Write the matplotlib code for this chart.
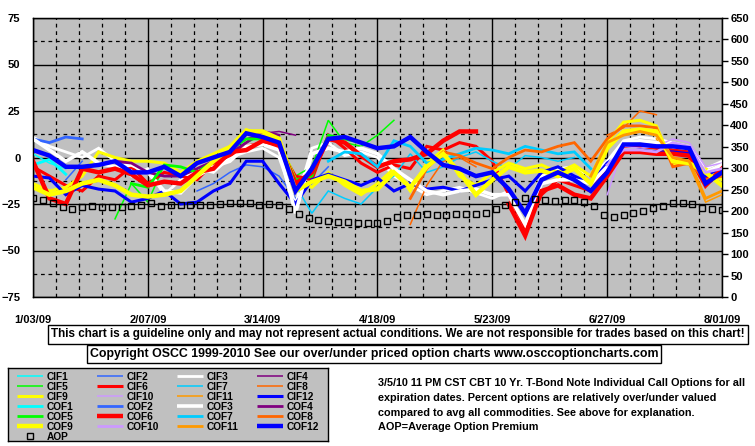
import numpy as np
import pandas as pd
import matplotlib
matplotlib.use("Agg")
import matplotlib.pyplot as plt
import matplotlib.dates as mdates
from matplotlib import font_manager

# ---- data ----
start = pd.Timestamp("2009-01-03")
end = pd.Timestamp("2009-08-01")
days = np.arange(0, 211, 5)          # 5-day sampling of the option series
aop_days = np.arange(0, 211, 3)      # 3-day sampling of the average premium
N = None

cif1 = [2, -3, -6] + [N] * 40
cif2 = [N] * 2 + [-12, -2] + [N] * 6 + [-18, -14, -8, -4, -5, -10, -22, -14, -5] + [N] * 24
cif3 = [11, 6, 3, 0, 5, -2, -10, -6, -20, -12, -6, -8, 0, 3, 5, 0, -25, 5, 8, 1, 3, 0,
        -10, -15, -20, -18, -16, -19, -22, -18, -30, -10, -6, -5, -10, -2, 9, 11, 10, 8, 6, -6, -2]
cif4 = [N] * 13 + [10, 13, 14, 12] + [N] * 26
cif5 = [N] * 5 + [-33, -14, -24, -4, -8, -6, -4, 2, 8, 12, 8, -10, -5, 20, 8, 6, 12, 20] + [N] * 20
cif6 = [-5, -10, -15, -18, -10, -12, -5, -14, -8, -10, -12, -3, 1, 6, 8, 5, -10, -12, 12, 5, -3, -8,
        -4, -6, 6, 4, 8, 6, -2, -20, -38, -20, -12, -15, -18, -6, 6, 6, 5, 4, 3, -12, -4]
cif7 = [N] * 16 + [-15, -30, -18, -22, -25, -16, -10, 2, -8, -5, 0, 3, -2, -6, 1, 0, -2, 0] + [N] * 9
cif8 = [N] * 23 + [-36, -15, -2, 0, -5] + [N] * 7 + [12, 16, 25, 23] + [N] * 4
cif9 = [-14, -18, -16, -10, 3, 0, -2, -2, -3, -8, -2, 2, 6, 15, 12, 9, -12, -16, -8, -15, -20, -14,
        -6, -18, -3, 4, -10, -15, -8, -3, -6, -4, -8, -4, -10, 8, 19, 20, 17, -4, -2, -6, -12]
cif10 = [N] * 35 + [-20, 6, 5, 6, 10, 8, -5, -3]
cif11 = [N] * 38 + [10, -3, -4, -24, -20]
cif12 = [-10, -11, -20, -15, -17, -18, -24, -22, -18, -25, -24, -18, -14, -2, -2, -14, -25, -12, -9, -12,
         -15, -11, -18, -14, -17, -16, -18, -15, -12, -10, -18, -8, -5, -10, -14, -3, 3, 4, 3, 3, 2, -10, -5]

cof1 = [-4, -1, -9] + [N] * 40
cof2 = [10, 8, 11, 10] + [N] * 39
cof3 = [10, 4, -2, 3, -3, -5, -4, -8, -18, -19, -10, -5, -2, 6, 7, 4, -30, 2, 5, 3, 5, 2,
        -6, -12, -18, -20, -18, -17, -20, -20, -36, -14, -12, -12, -14, -5, 8, 9, 8, 6, 5, -8, -4]
cof4 = [N] * 5 + [-2, -3, -8, -10, -10, -6, -2, 2, 8, 14, 12] + [N] * 27
cof5 = [N] * 6 + [-14, -16, -4, -5, -8, -2, 4, 10, 10, 7, -12, -10, 12, 10, 8] + [N] * 22
cof6 = [-2, -22, -25, -6, -8, -6, -9, -15, -13, -14, -8, -6, 3, 4, 9, 7, -14, -8, 10, 8, 1, -5,
        -2, -1, 2, 9, 14, 14, N, -25, -42, -18, -15, -20, -22, -10, 3, 3, 2, 2, 1, -15, -6]
cof7 = [N] * 18 + [-2, 3, 2, -5, 9, 6, -3, -1, 2, 5, 4, 2, 6, 4, 2, 3, -6] + [N] * 8
cof8 = [N] * 23 + [-22, -6, 3, 1, -3, -6, 0, 4, 3, 6, 8, -2, 10, 17, 17, 16, -5, -3, -12, -10]
cof9 = [-16, -20, -18, -14, -12, -15, -20, -21, -20, -18, -10, -2, 5, 14, 14, 10, -18, -13, -10, -13,
        -18, -17, -8, -16, -5, 2, -8, -20, -12, -5, -8, -7, -10, -6, -14, 5, 14, 15, 14, -2, -3, -8, -15]
cof10 = [N] * 35 + [-4, 4, 4, 3, 8, 6, -8, -6]
cof11 = [N] * 34 + [-10, 8, 12, 14, 12, 0, -2, -22, -18]
cof12 = [4, 1, -5, -5, -4, -2, -8, -8, -5, -10, -3, 0, 3, 13, 11, 8, -18, -6, 10, 11, 8, 5,
         6, 11, 3, -4, -6, -10, -8, -17, -30, -12, -8, -12, -18, -8, 7, 7, 6, 6, 5, -14, -8]

aop = [231, 226, 220, 210, 205, 210, 211, 210, 210, 210, 212, 215, 219, 213, 214, 214, 214, 214,
       215, 217, 219, 220, 218, 214, 216, 214, 205, 193, 184, 180, 176, 175, 174, 173, 172, 172,
       178, 186, 190, 192, 194, 192, 191, 193, 194, 193, 196, 204, 214, 222, 230, 228, 225, 224,
       226, 226, 222, 212, 190, 186, 192, 196, 200, 207, 213, 218, 219, 217, 208, 204, 203]

names = ["CIF%d" % i for i in range(1, 13)] + ["COF%d" % i for i in range(1, 13)]
series = [cif1, cif2, cif3, cif4, cif5, cif6, cif7, cif8, cif9, cif10, cif11, cif12,
          cof1, cof2, cof3, cof4, cof5, cof6, cof7, cof8, cof9, cof10, cof11, cof12]

colors = ["#00ffff", "#3366ff", "#ffffff", "#800080", "#00ff00", "#ff0000",
          "#00ccff", "#ff6600", "#ffff00", "#cc99ff", "#ff9900", "#0000ff"] * 2
widths = [1.1, 1.1, 2.0, 1.1, 1.1, 2.2, 1.1, 1.1, 2.2, 1.1, 1.1, 2.2,
          2.0, 2.0, 2.6, 2.0, 2.0, 3.2, 2.0, 2.0, 3.2, 2.0, 2.0, 3.2]

# ---- fonts ----
have = {f.name for f in font_manager.fontManager.ttflist}
narrow = "Liberation Sans Narrow" if "Liberation Sans Narrow" in have else "Liberation Sans"
plt.rcParams["font.family"] = [narrow, "DejaVu Sans"]
plt.rcParams["font.weight"] = "bold"

W, H = 755, 446
fig = plt.figure(figsize=(W / 100, H / 100), dpi=100)


def fx(x):
    return x / W


def fy(y):
    return 1 - y / H


ax = fig.add_axes([fx(33), fy(297), (722 - 33) / W, (297 - 18) / H])
ax.set_facecolor("#c0c0c0")

dates = start + pd.to_timedelta(days, unit="D")
for vals, c, lw in zip(series, colors, widths):
    v = np.array([np.nan if a is None else a for a in vals], dtype=float)
    ax.plot(dates, v, color=c, lw=lw, solid_joinstyle="miter", zorder=3)

ax.set_xlim(start, end)
ax.set_ylim(-75, 75)
ax.set_yticks(np.arange(-75, 76, 25))
ax.set_yticks(np.arange(-62.5, 63, 25), minor=True)
major_dates = pd.date_range(start, end, freq="35D")
minor_dates = pd.date_range(start, end, freq="7D")
ax.set_xticks(major_dates)
ax.set_xticks(minor_dates, minor=True)
ax.xaxis.set_major_formatter(mdates.DateFormatter("%-m/%d/%y"))
ax.grid(which="major", color="black", lw=1, ls="-", zorder=1)
ax.grid(which="minor", color="black", lw=0.9, ls=(0, (3, 3)), zorder=1)
ax.set_axisbelow(True)
ax.tick_params(which="both", length=0)
ax.tick_params(axis="y", pad=9, labelsize=8)
ax.tick_params(axis="x", pad=13, labelsize=8)
for s in ax.spines.values():
    s.set_color("black")
    s.set_linewidth(1)

ax2 = ax.twinx()
ax2.plot(start + pd.to_timedelta(aop_days, unit="D"), aop, ls="none", marker="s", ms=5,
         mfc="none", mec="black", mew=1, zorder=5)
ax2.set_ylim(0, 650)
ax2.set_yticks(np.arange(0, 651, 50))
ax2.tick_params(axis="y", length=4, width=1, pad=2, labelsize=8)
ax2.set_xlim(start, end)

# ---- disclaimer boxes ----
fig.text(fx(398), fy(334), "This chart is a guideline only and may not represent actual conditions. "
         "We are not responsible for trades based on this chart!", ha="center", va="center",
         fontsize=8.4, bbox=dict(boxstyle="square,pad=0.3", fc="white", ec="black", lw=1))
fig.text(fx(374), fy(354), "Copyright OSCC 1999-2010 See our over/under priced option charts "
         "www.osccoptioncharts.com", ha="center", va="center", fontsize=8.9,
         bbox=dict(boxstyle="square,pad=0.25", fc="white", ec="black", lw=1))

# ---- legend box ----
lax = fig.add_axes([fx(8), fy(441), 320 / W, 73 / H])
lax.set_facecolor("#c0c0c0")
lax.set_xlim(0, 320)
lax.set_ylim(73, 0)
lax.set_xticks([])
lax.set_yticks([])
for s in lax.spines.values():
    s.set_color("black")
    s.set_linewidth(1)
for j, (nm, c, lw) in enumerate(zip(names, colors, widths)):
    row, col = divmod(j, 4)
    x0 = 9 + 80 * col
    y0 = 8 + 10 * row
    lax.plot([x0, x0 + 26], [y0, y0], color=c, lw=lw, solid_capstyle="butt")
    lax.text(x0 + 30, y0 + 0.5, nm, va="center", ha="left", fontsize=7.3)
lax.plot([22], [68], ls="none", marker="s", ms=4, mfc="none", mec="black", mew=1)
lax.text(39, 68.5, "AOP", va="center", ha="left", fontsize=7.3)

# ---- description ----
desc = ["3/5/10 11 PM CST CBT 10 Yr. T-Bond Note Individual Call Options for all",
        "expiration dates. Percent options are relatively over/under valued",
        "compared to avg all commodities. See above for explanation.",
        "AOP=Average Option Premium"]
for k, line in enumerate(desc):
    fig.text(fx(378), fy(383 + 14.8 * k), line, ha="left", va="center", fontsize=7.8)

fig.savefig("out.png", dpi=100)
